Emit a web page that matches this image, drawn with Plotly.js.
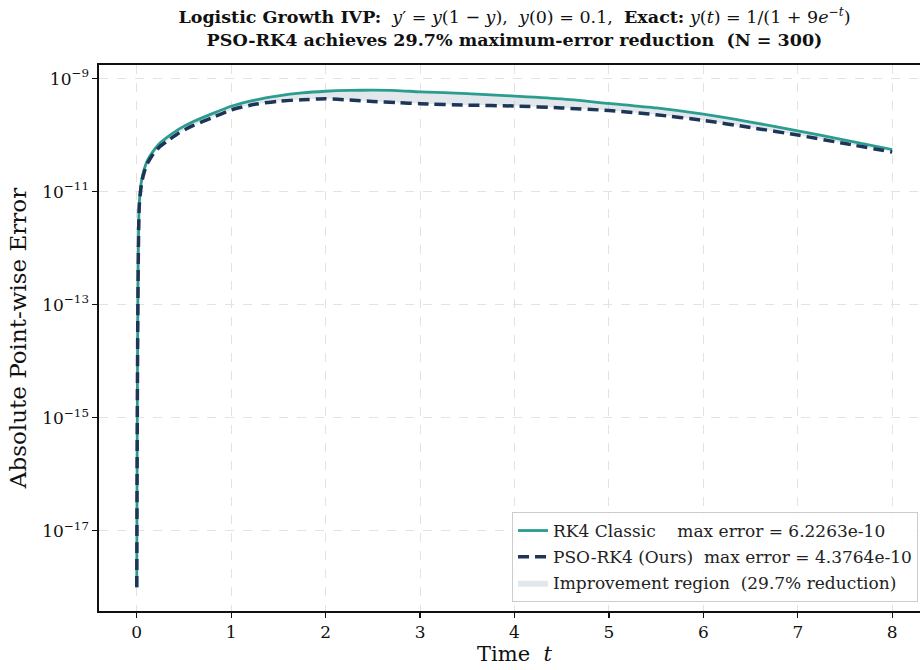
<!DOCTYPE html>
<html>
<head>
<meta charset="utf-8">
<script src="https://cdn.plot.ly/plotly-3.0.1.min.js"></script>
<style>
html,body{margin:0;padding:0;overflow:hidden;background:#fff;width:920px;height:670px;}
#chart{width:932px;height:670px;}
</style>
</head>
<body>
<div id="chart"></div>
<script>
// Time points (t)
const timeT = [0, 0.0267, 0.053, 0.08, 0.107, 0.16, 0.24, 0.32, 0.45, 0.6, 0.8, 1.0, 1.25, 1.5, 1.75, 2.0, 2.25, 2.5, 2.75, 3.0, 3.5, 4.0, 4.5, 5.0, 5.5, 6.0, 6.5, 7.0, 7.5, 8.0];
// RK4 Classic absolute error
const errRK4 = [1.0e-18, 6.3e-12, 1.66e-11, 2.51e-11, 3.39e-11, 4.79e-11, 7.08e-11, 9.12e-11, 1.29e-10, 1.74e-10, 2.40e-10, 3.24e-10, 4.17e-10, 4.95e-10, 5.56e-10, 5.96e-10, 6.17e-10, 6.2263e-10, 6.14e-10, 5.82e-10, 5.43e-10, 4.90e-10, 4.37e-10, 3.63e-10, 3.02e-10, 2.34e-10, 1.70e-10, 1.19e-10, 8.13e-11, 5.56e-11];
// PSO-RK4 absolute error
const errPSO = [1.0e-18, 5.62e-12, 1.48e-11, 2.24e-11, 3.02e-11, 4.27e-11, 6.17e-11, 7.76e-11, 1.10e-10, 1.48e-10, 2.04e-10, 2.79e-10, 3.50e-10, 3.98e-10, 4.22e-10, 4.3764e-10, 4.17e-10, 3.94e-10, 3.76e-10, 3.59e-10, 3.39e-10, 3.27e-10, 3.02e-10, 2.72e-10, 2.29e-10, 1.82e-10, 1.36e-10, 1.00e-10, 7.08e-11, 5.01e-11];

const xTicks = [0, 1, 2, 3, 4, 5, 6, 7, 8];
const yTickVals = [1e-17, 1e-15, 1e-13, 1e-11, 1e-9];
const yTickText = ['10<sup>−17</sup>', '10<sup>−15</sup>', '10<sup>−13</sup>', '10<sup>−11</sup>', '10<sup>−9</sup>'];

const nameRK4 = 'RK4 Classic\u00a0\u00a0\u00a0\u00a0max error = 6.2263e-10';
const namePSO = 'PSO-RK4 (Ours)\u00a0\u00a0max error = 4.3764e-10';
const nameFill = 'Improvement region\u00a0\u00a0(29.7% reduction)';

const SERIF = 'DejaVu Serif, serif';

const traces = [
  {x: timeT, y: errPSO, mode: 'lines', line: {width: 0, color: 'rgba(0,0,0,0)', shape: 'spline', smoothing: 0.6}, showlegend: false, hoverinfo: 'skip', legendgroup: 'c'},
  {x: timeT, y: errRK4, mode: 'lines', line: {width: 0, color: 'rgba(0,0,0,0)', shape: 'spline', smoothing: 0.6}, fill: 'tonexty',
   fillcolor: 'rgba(160,174,192,0.30)', name: nameFill, legendrank: 3, legendgroup: 'c'},
  {x: timeT, y: errRK4, mode: 'lines', line: {color: '#2a9d8f', width: 2.8, shape: 'spline', smoothing: 0.6}, name: nameRK4, legendrank: 1, legendgroup: 'a'},
  {x: timeT, y: errPSO, mode: 'lines', line: {color: '#1d3557', width: 3.5, dash: '11px,6px', shape: 'spline', smoothing: 0.6}, name: namePSO, legendrank: 2, legendgroup: 'b'}
];

const layout = {
  width: 932, height: 670,
  paper_bgcolor: '#fff', plot_bgcolor: '#fff',
  margin: {l: 99, r: 2, t: 65, b: 59},
  font: {family: SERIF, color: '#111', size: 16},
  title: {
    text: '<b>Logistic Growth IVP:</b>  <i>y</i>′ = <i>y</i>(1 − <i>y</i>),  <i>y</i>(0) = 0.1,  <b>Exact:</b> <i>y</i>(<i>t</i>) = 1/(1 + 9<i>e</i><sup>−<i>t</i></sup>)<br><b>PSO-RK4 achieves 29.7% maximum-error reduction  (N = 300)</b>',
    font: {family: SERIF, size: 17.5, color: '#111'},
    x: 0.5, xref: 'paper', xanchor: 'center', y: 0.965, yanchor: 'middle'
  },
  xaxis: {
    range: [-0.4, 8.4], tickvals: xTicks, ticktext: xTicks.map(String),
    showline: true, linecolor: '#111', linewidth: 1.6, mirror: true,
    ticks: 'outside', ticklen: 5, tickwidth: 1.2, tickcolor: '#111',
    showgrid: true, gridcolor: '#e3e3e3', griddash: 'dash', gridwidth: 1,
    zeroline: false, tickfont: {family: SERIF, size: 17},
    title: {text: 'Time  <i>t</i>', font: {family: SERIF, size: 21}, standoff: 5}
  },
  yaxis: {
    type: 'log', range: [-18.42, -8.76], tickvals: yTickVals, ticktext: yTickText,
    showline: true, linecolor: '#111', linewidth: 1.6, mirror: true,
    ticks: 'outside', ticklen: 5, tickwidth: 1.2, tickcolor: '#111',
    showgrid: true, gridcolor: '#e3e3e3', griddash: 'dash', gridwidth: 1,
    zeroline: false, tickfont: {family: SERIF, size: 17},
    title: {text: 'Absolute Point-wise Error', font: {family: SERIF, size: 23}, standoff: 9}
  },
  legend: {
    x: 0.9856, y: 0.0165, xanchor: 'right', yanchor: 'bottom',
    bgcolor: 'rgba(255,255,255,0.85)', bordercolor: '#cccccc', borderwidth: 1,
    font: {family: SERIF, size: 17, color: '#222'}, traceorder: 'grouped', tracegroupgap: 1
  },
  showlegend: true
};

Plotly.newPlot('chart', traces, layout, {displayModeBar: false, staticPlot: true});
</script>
</body>
</html>
